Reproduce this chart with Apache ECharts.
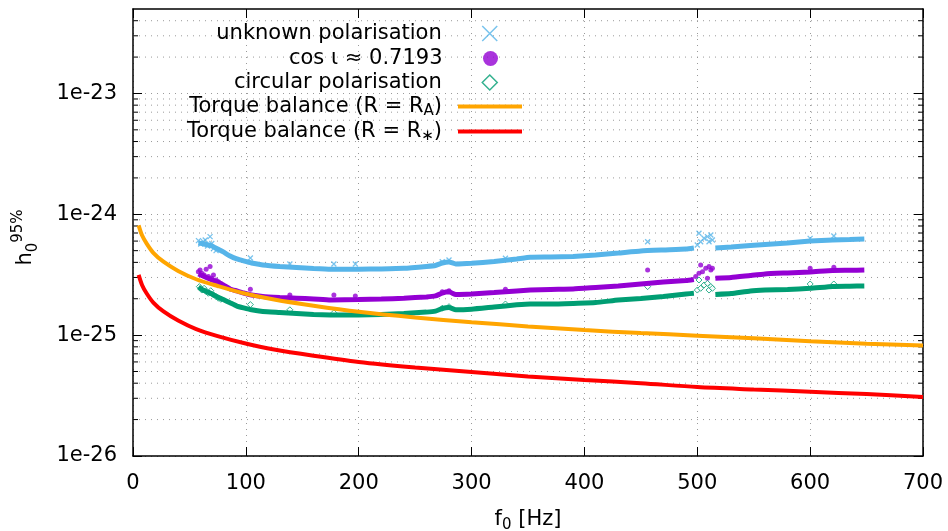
<!DOCTYPE html>
<html><head><meta charset="utf-8">
<script src="https://cdn.jsdelivr.net/npm/echarts@6/dist/echarts.min.js"></script>
<style>html,body{margin:0;padding:0;background:#fff}#c{width:948px;height:531px}</style>
</head><body><div id="c"></div>
<script>
// ---- data ----
const bandF = [58,62,66,70,75,80,86,92,98,105,115,130,145,160,175,200,220,240,260,268,274,280,286,300,320,340,352,370,390,410,430,450,470,490,497,506,516,530,547,560,580,600,620,635,648];
const unknownBand = [5.8e-25,5.7e-25,5.6e-25,5.47e-25,5.16e-25,4.88e-25,4.52e-25,4.27e-25,4.11e-25,3.95e-25,3.81e-25,3.70e-25,3.63e-25,3.56e-25,3.51e-25,3.51e-25,3.53e-25,3.57e-25,3.70e-25,3.77e-25,3.95e-25,4.03e-25,3.88e-25,3.93e-25,4.07e-25,4.27e-25,4.41e-25,4.43e-25,4.48e-25,4.61e-25,4.78e-25,4.97e-25,5.07e-25,5.16e-25,5.26e-25,null,5.26e-25,5.36e-25,5.52e-25,5.63e-25,5.79e-25,6.01e-25,6.13e-25,6.19e-25,6.25e-25];
const cosBand = [3.21e-25,3.09e-25,2.97e-25,2.86e-25,2.75e-25,2.60e-25,2.41e-25,2.32e-25,2.23e-25,2.15e-25,2.09e-25,2.05e-25,2.02e-25,1.99e-25,1.95e-25,1.97e-25,1.99e-25,2.02e-25,2.07e-25,2.11e-25,2.23e-25,2.28e-25,2.17e-25,2.19e-25,2.25e-25,2.32e-25,2.36e-25,2.39e-25,2.41e-25,2.48e-25,2.55e-25,2.65e-25,2.75e-25,2.83e-25,2.89e-25,null,2.95e-25,3.00e-25,3.12e-25,3.21e-25,3.27e-25,3.33e-25,3.43e-25,3.44e-25,3.46e-25];
const circBand = [2.50e-25,2.36e-25,2.28e-25,2.19e-25,2.07e-25,1.97e-25,1.85e-25,1.74e-25,1.68e-25,1.62e-25,1.57e-25,1.54e-25,1.51e-25,1.48e-25,1.47e-25,1.47e-25,1.48e-25,1.51e-25,1.55e-25,1.58e-25,1.66e-25,1.69e-25,1.62e-25,1.64e-25,1.71e-25,1.78e-25,1.81e-25,1.81e-25,1.83e-25,1.86e-25,1.95e-25,2.01e-25,2.09e-25,2.19e-25,2.22e-25,null,2.17e-25,2.21e-25,2.32e-25,2.36e-25,2.39e-25,2.44e-25,2.53e-25,2.54e-25,2.55e-25];

const unknownExtra = [[58,6.05e-25],[60,5.68e-25],[62.4,5.93e-25],[64,6.13e-25],[66,5.47e-25],[68.3,6.53e-25],[69.8,5.74e-25],[71.3,5.2e-25],[73.6,5.0e-25],[104,4.35e-25],[139,3.88e-25],[178,3.88e-25],[197,3.88e-25],[274,4.05e-25],[280,4.19e-25],[330,4.32e-25],[456,5.93e-25],[500,5.57e-25],[501.5,6.96e-25],[503,5.93e-25],[506,6.33e-25],[509,6.53e-25],[510.4,5.93e-25],[512,6.74e-25],[513.4,6.13e-25],[600,6.32e-25],[621,6.61e-25]];
const cosExtra = [[57.9,3.35e-25],[59.4,3.46e-25],[61,3.25e-25],[63,3.15e-25],[64.8,3.51e-25],[66.8,3.05e-25],[68.3,3.69e-25],[69.8,2.95e-25],[71.3,3.15e-25],[73.6,2.86e-25],[75.7,2.77e-25],[77.8,2.68e-25],[104,2.40e-25],[139,2.15e-25],[178,2.15e-25],[197,2.11e-25],[274,2.29e-25],[280,2.33e-25],[330,2.40e-25],[456,3.46e-25],[498.6,3.05e-25],[501.5,3.25e-25],[503,3.81e-25],[504.6,3.35e-25],[507.5,3.58e-25],[509,2.95e-25],[510.4,3.69e-25],[512,3.46e-25],[513.4,3.58e-25],[600,3.58e-25],[621,3.65e-25]];
const circExtra = [[58.8,2.52e-25],[61,2.36e-25],[63,2.44e-25],[64.8,2.29e-25],[66.8,2.22e-25],[68.9,2.33e-25],[71.3,2.15e-25],[73.6,2.08e-25],[75.7,2.02e-25],[77.8,1.98e-25],[104,1.79e-25],[139,1.62e-25],[178,1.53e-25],[197,1.52e-25],[274,1.67e-25],[280,1.72e-25],[330,1.81e-25],[456,2.52e-25],[500,2.36e-25],[501.5,2.86e-25],[503,2.44e-25],[506,2.60e-25],[509,2.68e-25],[510.4,2.36e-25],[512,2.52e-25],[513.4,2.44e-25],[600,2.65e-25],[621,2.65e-25]];

const torqueF = [5,8,12,18,27,40,56,75,98,125,160,200,250,300,350,400,450,500,550,600,650,700];
const torqueRA = [8.1e-25,6.7e-25,5.75e-25,4.8e-25,4.05e-25,3.4e-25,2.9e-25,2.55e-25,2.22e-25,1.97e-25,1.75e-25,1.56e-25,1.4e-25,1.28e-25,1.18e-25,1.1e-25,1.04e-25,9.9e-26,9.4e-26,8.9e-26,8.5e-26,8.2e-26];
const torqueRstar = [3.15e-25,2.6e-25,2.22e-25,1.86e-25,1.57e-25,1.32e-25,1.12e-25,9.8e-26,8.6e-26,7.6e-26,6.75e-26,6.0e-26,5.4e-26,4.95e-26,4.55e-26,4.25e-26,4.0e-26,3.72e-26,3.55e-26,3.4e-26,3.25e-26,3.08e-26];

const yTickLabels = {'-26':'1e-26','-25':'1e-25','-24':'1e-24','-23':'1e-23'};
const seriesNames = ['unknown polarisation','cos ι ≈ 0.7193','circular polarisation','Torque balance (R = R_A)','Torque balance (R = R_*)'];

// ---- styling ----
const FONT = 'DejaVu Sans';
const C_UNK = '#56b4e9', C_COS = '#9400d3', C_CIRC = '#009e73', C_RA = '#ffa500', C_RS = '#ff0000';
const CROSS = 'path://M0,0L10,10M10,0L0,10';
const DIAMOND = 'path://M5,0L10,5L5,10L0,5Z';
const BAR = 'path://M0,0L64,0L64,4L0,4Z';
const GRID_COLOR = '#9a9a9a';
const Y_MIN = 9.99e-27, Y_MAX = 5e-23;

const pairs = (xs, ys) => xs.map((x, i) => [x, ys[i]]);

const minorVals = [];
for (let e = -26; e <= -23; e++) for (let m = 2; m <= 9; m++) { const v = m * Math.pow(10, e); if (v < 4.9e-23) minorVals.push([0, v]); }

const chart = echarts.init(document.getElementById('c'), null, {renderer: 'canvas'});

const rich = {
  sub: {fontSize: 15, fontFamily: FONT, verticalAlign: 'bottom', lineHeight: 15, color: '#000'},
  sup: {fontSize: 15, fontFamily: FONT, verticalAlign: 'top', lineHeight: 15, color: '#000'}
};
const fmtName = n => n.replace('_A', '{sub|A}').replace('_*', '{sub|∗}');

const rowCenters = [32, 57, 81, 105, 130];
const legendIcons = [
  {right: 450, icon: CROSS, itemStyle: {color: 'transparent', borderColor: C_UNK, borderWidth: 1.5}},
  {right: 450, icon: 'circle', itemStyle: {color: C_COS, borderWidth: 0}},
  {right: 450, icon: DIAMOND, itemStyle: {color: '#fff', borderColor: C_CIRC, borderWidth: 1.5}},
  {right: 426, icon: BAR, itemStyle: {color: C_RA, borderWidth: 0}},
  {right: 426, icon: BAR, itemStyle: {color: C_RS, borderWidth: 0}}
];
const legends = seriesNames.map((n, i) => Object.assign({
  data: [n],
  orient: 'vertical',
  top: rowCenters[i] - 11,
  padding: 0,
  align: 'right',
  itemWidth: 64,
  itemHeight: 15,
  symbolKeepAspect: true,
  selectedMode: false,
  formatter: fmtName,
  textStyle: {fontSize: 21, fontFamily: FONT, color: '#000', lineHeight: 25, padding: [0, 11, 0, 0], rich: rich}
}, legendIcons[i]));

const axisLabelY = v => {
  const l = Math.log10(v), e = Math.round(l);
  if (Math.abs(l - e) > 1e-3) return '';
  return yTickLabels[String(e)] || '';
};

const option = {
  animation: false,
  backgroundColor: '#fff',
  grid: {left: 133, right: 25, top: 9, bottom: 75, containLabel: false, outerBoundsMode: 'none'},
  legend: legends,
  xAxis: [
    {type: 'value', min: 0, max: 700, interval: 100, position: 'bottom',
     axisLine: {show: true, onZero: false, lineStyle: {color: '#000', width: 1.5}},
     axisTick: {show: true, inside: true, length: 9, lineStyle: {color: '#000', width: 1}},
     axisLabel: {fontSize: 21, fontFamily: FONT, color: '#000', margin: 17, showMinLabel: true, showMaxLabel: true},
     splitLine: {show: true, lineStyle: {color: GRID_COLOR, width: 1, type: [1, 5]}},
     name: 'f{sub|0} [Hz]', nameLocation: 'middle', nameGap: 51, nameMoveOverlap: false,
     nameTextStyle: {fontSize: 21, fontFamily: FONT, color: '#000', lineHeight: 26, rich: rich}},
    {type: 'value', min: 0, max: 700, interval: 100, position: 'top',
     axisLine: {show: true, onZero: false, lineStyle: {color: '#000', width: 1.5}},
     axisTick: {show: true, inside: true, length: 9, lineStyle: {color: '#000', width: 1}},
     axisLabel: {show: false}, splitLine: {show: false}}
  ],
  yAxis: [
    {type: 'log', logBase: 10, min: Y_MIN, max: Y_MAX, position: 'left',
     axisLine: {show: true, onZero: false, lineStyle: {color: '#000', width: 1.5}},
     axisTick: {show: true, inside: true, length: 9, lineStyle: {color: '#000', width: 1}},
     axisLabel: {fontSize: 21, fontFamily: FONT, color: '#000', margin: 16, showMinLabel: true, hideOverlap: false, formatter: axisLabelY},
     splitLine: {show: true, lineStyle: {color: GRID_COLOR, width: 1, type: [1, 5]}},
     name: 'h{sub|0}{sup|95%}', nameLocation: 'middle', nameGap: 92, nameRotate: 90, nameMoveOverlap: false,
     nameTextStyle: {fontSize: 21, fontFamily: FONT, color: '#000', lineHeight: 30, padding: [0, 10, 0, 0], rich: rich}},
    {type: 'log', logBase: 10, min: Y_MIN, max: Y_MAX, position: 'right',
     axisLine: {show: true, onZero: false, lineStyle: {color: '#000', width: 1.5}},
     axisTick: {show: true, inside: true, length: 9, lineStyle: {color: '#000', width: 1}},
     axisLabel: {show: false}, splitLine: {show: false}}
  ],
  series: [
    {type: 'custom', name: 'minor', z: 1, silent: true, xAxisIndex: 0, yAxisIndex: 0, data: minorVals,
     renderItem: (params, api) => {
       const y = api.coord([0, api.value(1)])[1];
       const cs = params.coordSys;
       const x0 = cs.x, x1 = cs.x + cs.width;
       return {type: 'group', children: [
         {type: 'line', shape: {x1: x0, y1: y, x2: x1, y2: y}, style: {stroke: GRID_COLOR, lineWidth: 1, lineDash: [1, 5]}},
         {type: 'line', shape: {x1: x0, y1: y, x2: x0 + 5, y2: y}, style: {stroke: '#000', lineWidth: 1}},
         {type: 'line', shape: {x1: x1 - 5, y1: y, x2: x1, y2: y}, style: {stroke: '#000', lineWidth: 1}}
       ]};
     }},
    {type: 'line', name: 'unknown band', data: pairs(bandF, unknownBand), symbol: 'none', smooth: 0.15,
     lineStyle: {color: C_UNK, width: 5}, itemStyle: {color: C_UNK}},
    {type: 'scatter', name: seriesNames[0], data: unknownExtra, symbol: CROSS, symbolSize: 5,
     itemStyle: {color: 'transparent', borderColor: C_UNK, borderWidth: 1.3}},
    {type: 'line', name: 'cos band', data: pairs(bandF, cosBand), symbol: 'none', smooth: 0.15,
     lineStyle: {color: C_COS, width: 5}, itemStyle: {color: C_COS}},
    {type: 'scatter', name: seriesNames[1], data: cosExtra, symbol: 'circle', symbolSize: 5,
     itemStyle: {color: C_COS}},
    {type: 'line', name: 'circ band', data: pairs(bandF, circBand), symbol: 'none', smooth: 0.15,
     lineStyle: {color: C_CIRC, width: 5}, itemStyle: {color: C_CIRC}},
    {type: 'scatter', name: seriesNames[2], data: circExtra, symbol: 'diamond', symbolSize: 6,
     itemStyle: {color: '#fff', borderColor: C_CIRC, borderWidth: 1}},
    {type: 'line', name: seriesNames[3], data: pairs(torqueF, torqueRA), symbol: 'none', smooth: 0.3,
     lineStyle: {color: C_RA, width: 4}, itemStyle: {color: C_RA}},
    {type: 'line', name: seriesNames[4], data: pairs(torqueF, torqueRstar), symbol: 'none', smooth: 0.3,
     lineStyle: {color: C_RS, width: 4}, itemStyle: {color: C_RS}}
  ]
};
chart.setOption(option);
</script></body></html>
